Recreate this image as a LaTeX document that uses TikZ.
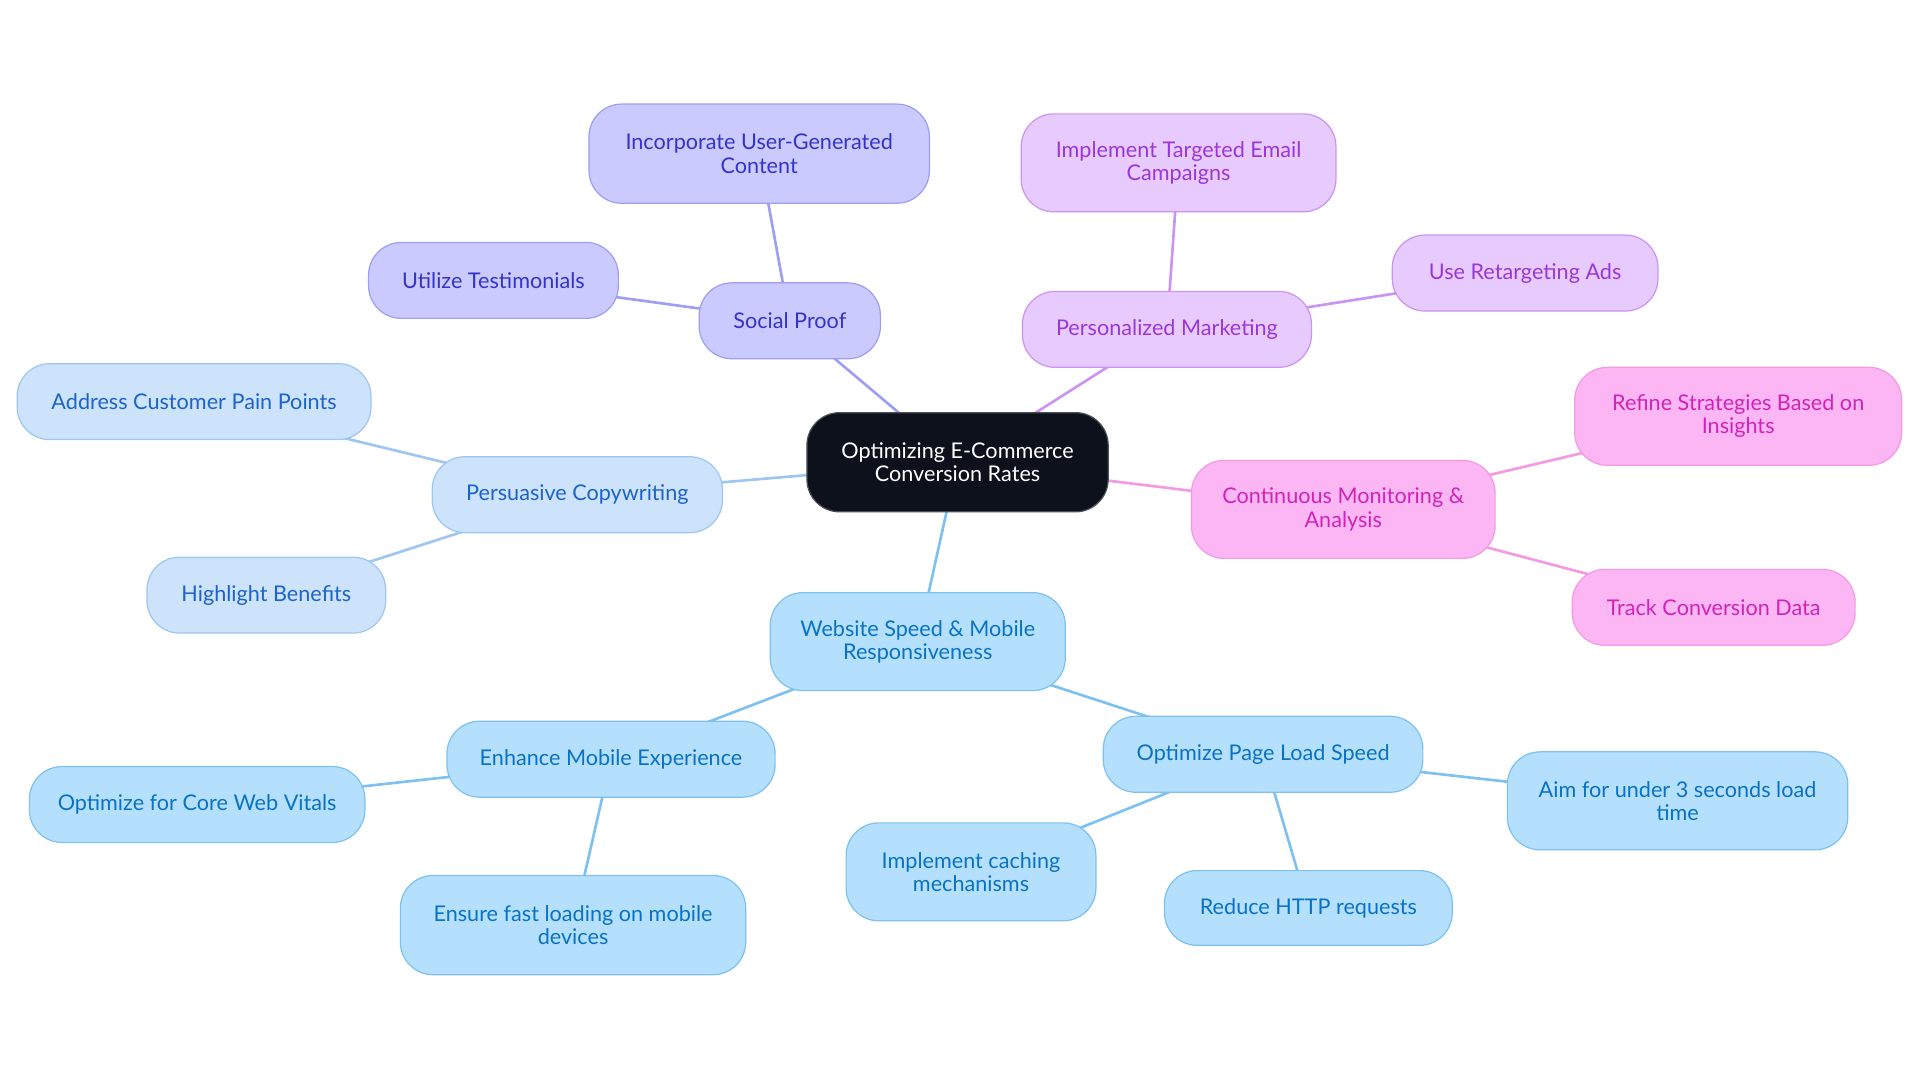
\documentclass[tikz,border=0pt]{standalone}
\usepackage{fontspec}
\setmainfont{Lato}
\usepackage{xcolor}
\usetikzlibrary{positioning,backgrounds}

\definecolor{rootfill}{HTML}{0C111B}
\definecolor{rootdraw}{HTML}{4A4F57}
\definecolor{socfill}{HTML}{CACAFF}
\definecolor{socdraw}{HTML}{9E9EF2}
\definecolor{soctext}{HTML}{3434C8}
\definecolor{perfill}{HTML}{E8CBFE}
\definecolor{perdraw}{HTML}{C994F2}
\definecolor{pertext}{HTML}{9B36D9}
\definecolor{monfill}{HTML}{FDB6F4}
\definecolor{mondraw}{HTML}{F29AE2}
\definecolor{montext}{HTML}{D024B8}
\definecolor{copfill}{HTML}{CDE3FB}
\definecolor{copdraw}{HTML}{9FC6F1}
\definecolor{coptext}{HTML}{1D63C9}
\definecolor{webfill}{HTML}{B5E0FD}
\definecolor{webdraw}{HTML}{7EC1F0}
\definecolor{webtext}{HTML}{0A72C4}

\begin{document}
\begin{tikzpicture}[x=0.6pt,y=-0.6pt,
                    box/.style={draw, rounded corners=16pt, line width=0.6pt, align=center,
                                inner sep=0pt, font=\fontsize{10.6}{11.4}\selectfont},
                    wh/.style 2 args={minimum width=#1*0.6pt, minimum height=#2*0.6pt},
                    rootbox/.style={box, fill=rootfill, draw=rootdraw, text=white},
                    socbox/.style={box, fill=socfill, draw=socdraw, text=soctext},
                    perbox/.style={box, fill=perfill, draw=perdraw, text=pertext},
                    monbox/.style={box, fill=monfill, draw=mondraw, text=montext},
                    copbox/.style={box, fill=copfill, draw=copdraw, text=coptext},
                    webbox/.style={box, fill=webfill, draw=webdraw, text=webtext},
                    link/.style={line width=1.3pt},
                   ]

\useasboundingbox (0,0) rectangle (1568,884.5);

% centre
\node[rootbox, wh={246}{81}] (root) at (782,377.5) {Optimizing E-Commerce\\Conversion Rates};

% social proof
\node[socbox, wh={148}{62}] (soc) at (645,262) {Social Proof};
\node[socbox, wh={278}{81}] (ugc) at (620,125.5) {Incorporate User-Generated\\Content};
\node[socbox, wh={204}{62}] (testi) at (403,229) {Utilize Testimonials};

% personalized marketing
\node[perbox, wh={236}{62}] (per) at (953,269) {Personalized Marketing};
\node[perbox, wh={257}{80}] (email) at (962.5,133) {Implement Targeted Email\\Campaigns};
\node[perbox, wh={217}{62}] (retarget) at (1245.5,223) {Use Retargeting Ads};

% monitoring
\node[monbox, wh={248}{80}] (mon) at (1097,416) {Continuous Monitoring \&\\Analysis};
\node[monbox, wh={267}{80}] (refine) at (1419.5,340) {Refine Strategies Based on\\Insights};
\node[monbox, wh={231}{62}] (track) at (1399.5,496) {Track Conversion Data};

% copywriting
\node[copbox, wh={237}{62}] (cop) at (471.5,404) {Persuasive Copywriting};
\node[copbox, wh={289}{62}] (pain) at (158.5,328) {Address Customer Pain Points};
\node[copbox, wh={195}{62}] (benefit) at (217.5,486) {Highlight Benefits};

% website speed
\node[webbox, wh={241}{80}] (web) at (749.5,524) {Website Speed \& Mobile\\Responsiveness};
\node[webbox, wh={268}{62}] (mobile) at (499,620) {Enhance Mobile Experience};
\node[webbox, wh={274}{62}] (vitals) at (161,657) {Optimize for Core Web Vitals};
\node[webbox, wh={282}{81}] (fastload) at (468,755.5) {Ensure fast loading on mobile\\devices};
\node[webbox, wh={261}{62}] (load) at (1031.5,616) {Optimize Page Load Speed};
\node[webbox, wh={278}{80}] (three) at (1370,654) {Aim for under 3 seconds load\\time};
\node[webbox, wh={204}{80}] (cache) at (793,712) {Implement caching\\mechanisms};
\node[webbox, wh={235}{61}] (http) at (1068.5,741.5) {Reduce HTTP requests};

% links, centre to centre, hidden under the boxes
\begin{scope}[on background layer]
\draw[link, socdraw] (root.center) -- (soc.center);
\draw[link, socdraw] (soc.center) -- (ugc.center);
\draw[link, socdraw] (soc.center) -- (testi.center);
\draw[link, perdraw] (root.center) -- (per.center);
\draw[link, perdraw] (per.center) -- (email.center);
\draw[link, perdraw] (per.center) -- (retarget.center);
\draw[link, mondraw] (root.center) -- (mon.center);
\draw[link, mondraw] (mon.center) -- (refine.center);
\draw[link, mondraw] (mon.center) -- (track.center);
\draw[link, copdraw] (root.center) -- (cop.center);
\draw[link, copdraw] (cop.center) -- (pain.center);
\draw[link, copdraw] (cop.center) -- (benefit.center);
\draw[link, webdraw] (root.center) -- (web.center);
\draw[link, webdraw] (web.center) -- (mobile.center);
\draw[link, webdraw] (mobile.center) -- (vitals.center);
\draw[link, webdraw] (mobile.center) -- (fastload.center);
\draw[link, webdraw] (web.center) -- (load.center);
\draw[link, webdraw] (load.center) -- (three.center);
\draw[link, webdraw] (load.center) -- (cache.center);
\draw[link, webdraw] (load.center) -- (http.center);
\end{scope}

\end{tikzpicture}
\end{document}
